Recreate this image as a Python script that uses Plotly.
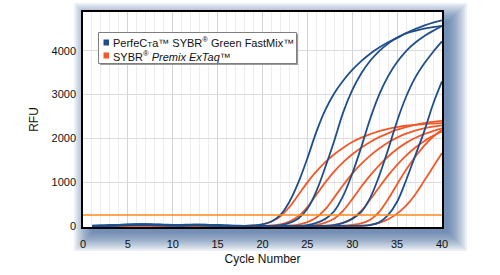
import plotly.graph_objects as go

# ---------------- data ----------------
cycles = list(range(1, 41))

# PerfeCTa SYBR Green FastMix (blue) amplification curves, RFU per cycle
perfecta_1 = [10,15,20,30,40,45,45,40,35,30,30,35,40,35,25,15,10,10,20,45,110,260,560,1000,1550,2150,2650,3030,3320,3560,3760,3930,4070,4190,4290,4390,4450,4500,4535,4565]
perfecta_2 = [15,20,25,35,45,50,50,45,40,35,35,40,40,35,30,20,15,10,10,10,10,30,80,180,400,800,1350,1950,2600,3100,3480,3770,3990,4160,4300,4400,4490,4570,4640,4690]
perfecta_3 = [5,10,15,25,35,40,40,35,30,25,25,30,30,25,20,15,10,10,10,10,10,10,10,10,30,80,170,350,700,1200,1800,2450,3000,3420,3740,3990,4180,4330,4450,4560]
perfecta_4 = [10,15,20,25,30,35,35,30,25,20,20,25,25,20,15,10,10,10,10,10,10,10,10,10,10,10,10,30,80,170,330,650,1150,1750,2400,2950,3380,3700,3970,4210]
perfecta_5 = [5,10,15,20,25,30,30,25,20,15,15,20,20,15,10,10,10,10,10,10,10,10,10,10,10,10,10,10,10,10,10,30,90,260,560,1050,1600,2150,2780,3300]

# SYBR Premix ExTaq (orange) amplification curves, RFU per cycle
extaq_1 = [0,5,10,15,20,25,25,20,20,15,15,15,15,10,10,10,10,10,20,45,110,230,440,720,1000,1250,1460,1640,1790,1920,2020,2100,2170,2220,2260,2290,2310,2330,2340,2350]
extaq_2 = [0,5,10,15,20,25,25,20,20,15,15,15,15,10,10,10,10,10,10,10,20,45,110,230,440,720,1000,1250,1460,1640,1790,1920,2030,2120,2200,2260,2310,2350,2380,2400]
extaq_3 = [0,5,10,15,20,20,20,20,15,15,15,15,10,10,10,10,10,10,10,10,10,10,20,40,95,200,390,660,940,1200,1420,1610,1770,1910,2020,2110,2180,2230,2270,2300]
extaq_4 = [0,5,10,15,15,20,20,20,15,15,15,10,10,10,10,10,10,10,10,10,10,10,10,10,15,35,85,180,360,620,900,1160,1390,1590,1760,1900,2010,2100,2170,2230]
extaq_5 = [0,5,10,10,15,15,20,15,15,15,10,10,10,10,10,10,10,10,10,10,10,10,10,10,10,10,15,35,85,180,350,610,890,1160,1400,1610,1790,1940,2060,2160]
extaq_6 = [0,5,5,10,15,15,15,15,15,10,10,10,10,10,10,10,10,10,10,10,10,10,10,10,10,10,10,10,15,35,70,150,330,620,960,1290,1580,1830,2040,2200]
extaq_7 = [0,5,5,10,10,15,15,15,10,10,10,10,10,10,10,10,10,10,10,10,10,10,10,10,10,10,10,10,10,10,15,35,80,160,290,470,720,1030,1350,1670]

threshold = 260
x_ticks = [0, 5, 10, 15, 20, 25, 30, 35, 40]
y_ticks = [0, 1000, 2000, 3000, 4000]

blue_series = [perfecta_1, perfecta_2, perfecta_3, perfecta_4, perfecta_5]
orange_series = [extaq_1, extaq_2, extaq_3, extaq_4, extaq_5, extaq_6, extaq_7]
for s in blue_series + orange_series:
    assert len(s) == 40

BLUE = "#1f4f8a"
ORANGE = "#f2582a"
THRESH = "#ff8a1c"
FONT = "Liberation Sans, Arial, sans-serif"

fig = go.Figure()

for s in orange_series:
    fig.add_trace(go.Scatter(x=cycles, y=s, mode="lines", line=dict(color=ORANGE, width=1.8, shape="spline"),
                             showlegend=False, hoverinfo="skip"))
for s in blue_series:
    fig.add_trace(go.Scatter(x=cycles, y=s, mode="lines", line=dict(color=BLUE, width=1.8, shape="spline"),
                             showlegend=False, hoverinfo="skip"))

fig.add_trace(go.Scatter(x=[0, 40], y=[threshold, threshold], mode="lines",
                         line=dict(color=THRESH, width=1.5), showlegend=False, hoverinfo="skip"))

# ---------------- layout ----------------
L, R, T, B = 83, 58, 12, 48
W, H = 500, 275
pw, ph = W - L - R, H - T - B

def px2paper_x(px):
    return (px - L) / pw

def px2paper_y(py):
    return (H - B - py) / ph

shapes = []
# soft drop shadow behind plot area
for i in range(11):
    r = (10 - i) * 1.8
    shapes.append(dict(type="rect", xref="paper", yref="paper", layer="below",
                       x0=px2paper_x(L + 9 - r), x1=px2paper_x(L + pw + 7 + r),
                       y0=px2paper_y(T + 9 - r), y1=px2paper_y(T + ph + 6 + r),
                       fillcolor="#2c5c92", opacity=0.09, line=dict(width=0)))
# white cover inside plot area
shapes.append(dict(type="rect", xref="paper", yref="paper", layer="below",
                   x0=0, x1=1, y0=0, y1=1, fillcolor="white", line=dict(width=0)))

# legend box (drawn manually)
lx0, lx1, ly0, ly1 = 98.5, 296.5, 32.5, 63.5
shapes.append(dict(type="rect", xref="paper", yref="paper", layer="above",
                   x0=px2paper_x(lx0 + 1.5), x1=px2paper_x(lx1 + 1.5),
                   y0=px2paper_y(ly0 + 1.5), y1=px2paper_y(ly1 + 1.5),
                   fillcolor="#9a9a9a", line=dict(width=0)))
shapes.append(dict(type="rect", xref="paper", yref="paper", layer="above",
                   x0=px2paper_x(lx0), x1=px2paper_x(lx1),
                   y0=px2paper_y(ly0), y1=px2paper_y(ly1),
                   fillcolor="white", line=dict(color="#7f7f7f", width=1)))
for (cy, col) in [(42.5, BLUE), (55.5, ORANGE)]:
    shapes.append(dict(type="rect", xref="paper", yref="paper", layer="above",
                       x0=px2paper_x(103.5), x1=px2paper_x(109),
                       y0=px2paper_y(cy - 3), y1=px2paper_y(cy + 3),
                       fillcolor=col, line=dict(width=0)))

annotations = [
    dict(xref="paper", yref="paper", x=px2paper_x(111), y=px2paper_y(42), xanchor="left", yanchor="middle",
         text="PerfeC<span style='font-size:8px'>T</span>a™ SYBR<sup>®</sup> Green FastMix™", showarrow=False,
         font=dict(family=FONT, size=11, color="#111")),
    dict(xref="paper", yref="paper", x=px2paper_x(111), y=px2paper_y(55.5), xanchor="left", yanchor="middle",
         text="SYBR<sup>®</sup> <i>Premix ExTaq</i>™", showarrow=False,
         font=dict(family=FONT, size=11, color="#111")),
]

fig.update_layout(
    template="none",
    width=W, height=H,
    margin=dict(l=L, r=R, t=T, b=B, pad=0, autoexpand=False),
    paper_bgcolor="white", plot_bgcolor="white",
    font=dict(family=FONT, size=11, color="#111"),
    shapes=shapes, annotations=annotations,
    showlegend=False,
)
fig.update_xaxes(
    automargin=False,
    range=[0, 40], tickvals=x_ticks, ticktext=[str(v) for v in x_ticks],
    showgrid=True, gridcolor="#d4d4d4", gridwidth=1,
    minor=dict(dtick=1, showgrid=True, gridcolor="#ececec", gridwidth=1),
    showline=True, linecolor="black", linewidth=1.5, mirror=True,
    ticks="outside", ticklen=6, tickcolor="rgba(0,0,0,0)", zeroline=False,
    tickfont=dict(family=FONT, size=11, color="#111"),
    title=dict(text="Cycle Number", font=dict(family=FONT, size=12, color="#111"), standoff=6),
)
fig.update_yaxes(
    automargin=False,
    range=[-15, 4880], tickvals=y_ticks, ticktext=[str(v) for v in y_ticks],
    showgrid=True, gridcolor="#dcdcdc", gridwidth=1,
    showline=True, linecolor="black", linewidth=1.5, mirror=True,
    ticks="outside", ticklen=3, tickcolor="rgba(0,0,0,0)", zeroline=False,
    tickfont=dict(family=FONT, size=11, color="#111"),
    title=dict(text="RFU", font=dict(family=FONT, size=12, color="#111"), standoff=10),
)

fig.write_html("out.html")
